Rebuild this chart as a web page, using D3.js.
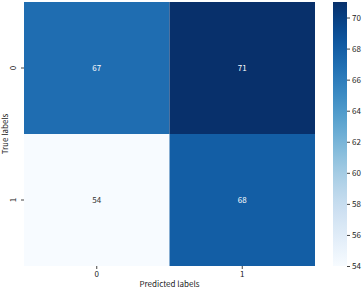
<!DOCTYPE html>
<html>
<head>
<meta charset="utf-8">
<script src="https://cdn.jsdelivr.net/npm/d3@7"></script>
<style>
  body { margin: 0; background: #fff; }
  svg text { font-family: "Noto Sans CJK SC", "DejaVu Sans", sans-serif; }
</style>
</head>
<body>
<div id="chart"></div>
<script>
/* confusion matrix heatmap */

const trueLabels = ["0", "1"];
const predLabels = ["0", "1"];
const counts = [[67, 71], [54, 68]];
const cbarTicks = [54, 56, 58, 60, 62, 64, 66, 68, 70];

const width = 362, height = 290,
      margin = ({top: 2, right: 47, bottom: 24, left: 24});

let svg = d3.select("#chart")
            .append("svg")
            .attr("width", width)
            .attr("height", height);

const cells = [];
trueLabels.forEach((t, i) => predLabels.forEach((p, j) => cells.push({t, p, v: counts[i][j]})));

const x = d3.scaleBand()
            .domain(predLabels)
            .range([margin.left, 315]);

const y = d3.scaleBand()
            .domain(trueLabels)
            .range([margin.top, height - margin.bottom]);

const color = d3.scaleSequential(d3.interpolateBlues)
                .domain([54, 71]);

svg.selectAll(".cell")
    .data(cells)
    .join("rect")
    .attr("class", "cell")
    .attr("x", d => x(d.p))
    .attr("y", d => y(d.t))
    .attr("width", x.bandwidth())
    .attr("height", y.bandwidth())
    .attr("fill", d => color(d.v));

svg.selectAll(".annot")
    .data(cells)
    .join("text")
    .attr("class", "annot")
    .attr("x", d => x(d.p) + x.bandwidth() / 2)
    .attr("y", d => y(d.t) + y.bandwidth() / 2)
    .attr("dy", "0.35em")
    .attr("text-anchor", "middle")
    .attr("font-size", 8)
    .attr("fill", d => d.v > 62 ? "#fff" : "#333")
    .text(d => d.v);

const xAxis = g => g
        .attr("transform", `translate(0,${height - margin.bottom})`)
        .call(d3.axisBottom(x).tickSize(3).tickPadding(2))
        .call(g => g.select(".domain").remove())
        .call(g => g.selectAll("text").attr("font-size", 8).attr("fill", "#222"))
        .call(g => g.selectAll("line").attr("stroke", "#444"));

const yAxis = g => g
        .attr("transform", `translate(${margin.left},0)`)
        .call(d3.axisLeft(y).tickSize(3).tickPadding(2))
        .call(g => g.select(".domain").remove())
        .call(g => g.selectAll("text")
            .attr("font-size", 8).attr("fill", "#222")
            .attr("text-anchor", "middle")
            .attr("dy", null)
            .attr("transform", "rotate(-90)")
            .attr("x", 0).attr("y", -8))
        .call(g => g.selectAll("line").attr("stroke", "#444"));

svg.append("g").call(xAxis);
svg.append("g").call(yAxis);

svg.append("text")
    .attr("x", (margin.left + 315) / 2)
    .attr("y", 287)
    .attr("text-anchor", "middle")
    .attr("font-size", 8)
    .attr("fill", "#222")
    .text("Predicted labels");

svg.append("text")
    .attr("transform", `translate(8,${(margin.top + height - margin.bottom) / 2}) rotate(-90)`)
    .attr("text-anchor", "middle")
    .attr("font-size", 8)
    .attr("fill", "#222")
    .text("True labels");

// colorbar
const cb = ({x: 333, w: 14});
const cy = d3.scaleLinear()
             .domain([54, 71])
             .range([height - margin.bottom, margin.top]);

const defs = svg.append("defs");
const grad = defs.append("linearGradient")
                 .attr("id", "cbar")
                 .attr("x1", 0).attr("x2", 0)
                 .attr("y1", 1).attr("y2", 0);
d3.range(0, 1.0001, 0.05).forEach(t => {
    grad.append("stop")
        .attr("offset", t)
        .attr("stop-color", color(54 + t * 17));
});

svg.append("rect")
    .attr("x", cb.x)
    .attr("y", cy(71))
    .attr("width", cb.w)
    .attr("height", cy(54) - cy(71))
    .attr("fill", "url(#cbar)");

svg.append("g")
    .attr("transform", `translate(${cb.x + cb.w},0)`)
    .call(d3.axisRight(cy).tickValues(cbarTicks).tickSize(3).tickPadding(2))
    .call(g => g.select(".domain").remove())
    .call(g => g.selectAll("text").attr("font-size", 8).attr("fill", "#222"))
    .call(g => g.selectAll("line").attr("stroke", "#444"));
</script>
</body>
</html>
